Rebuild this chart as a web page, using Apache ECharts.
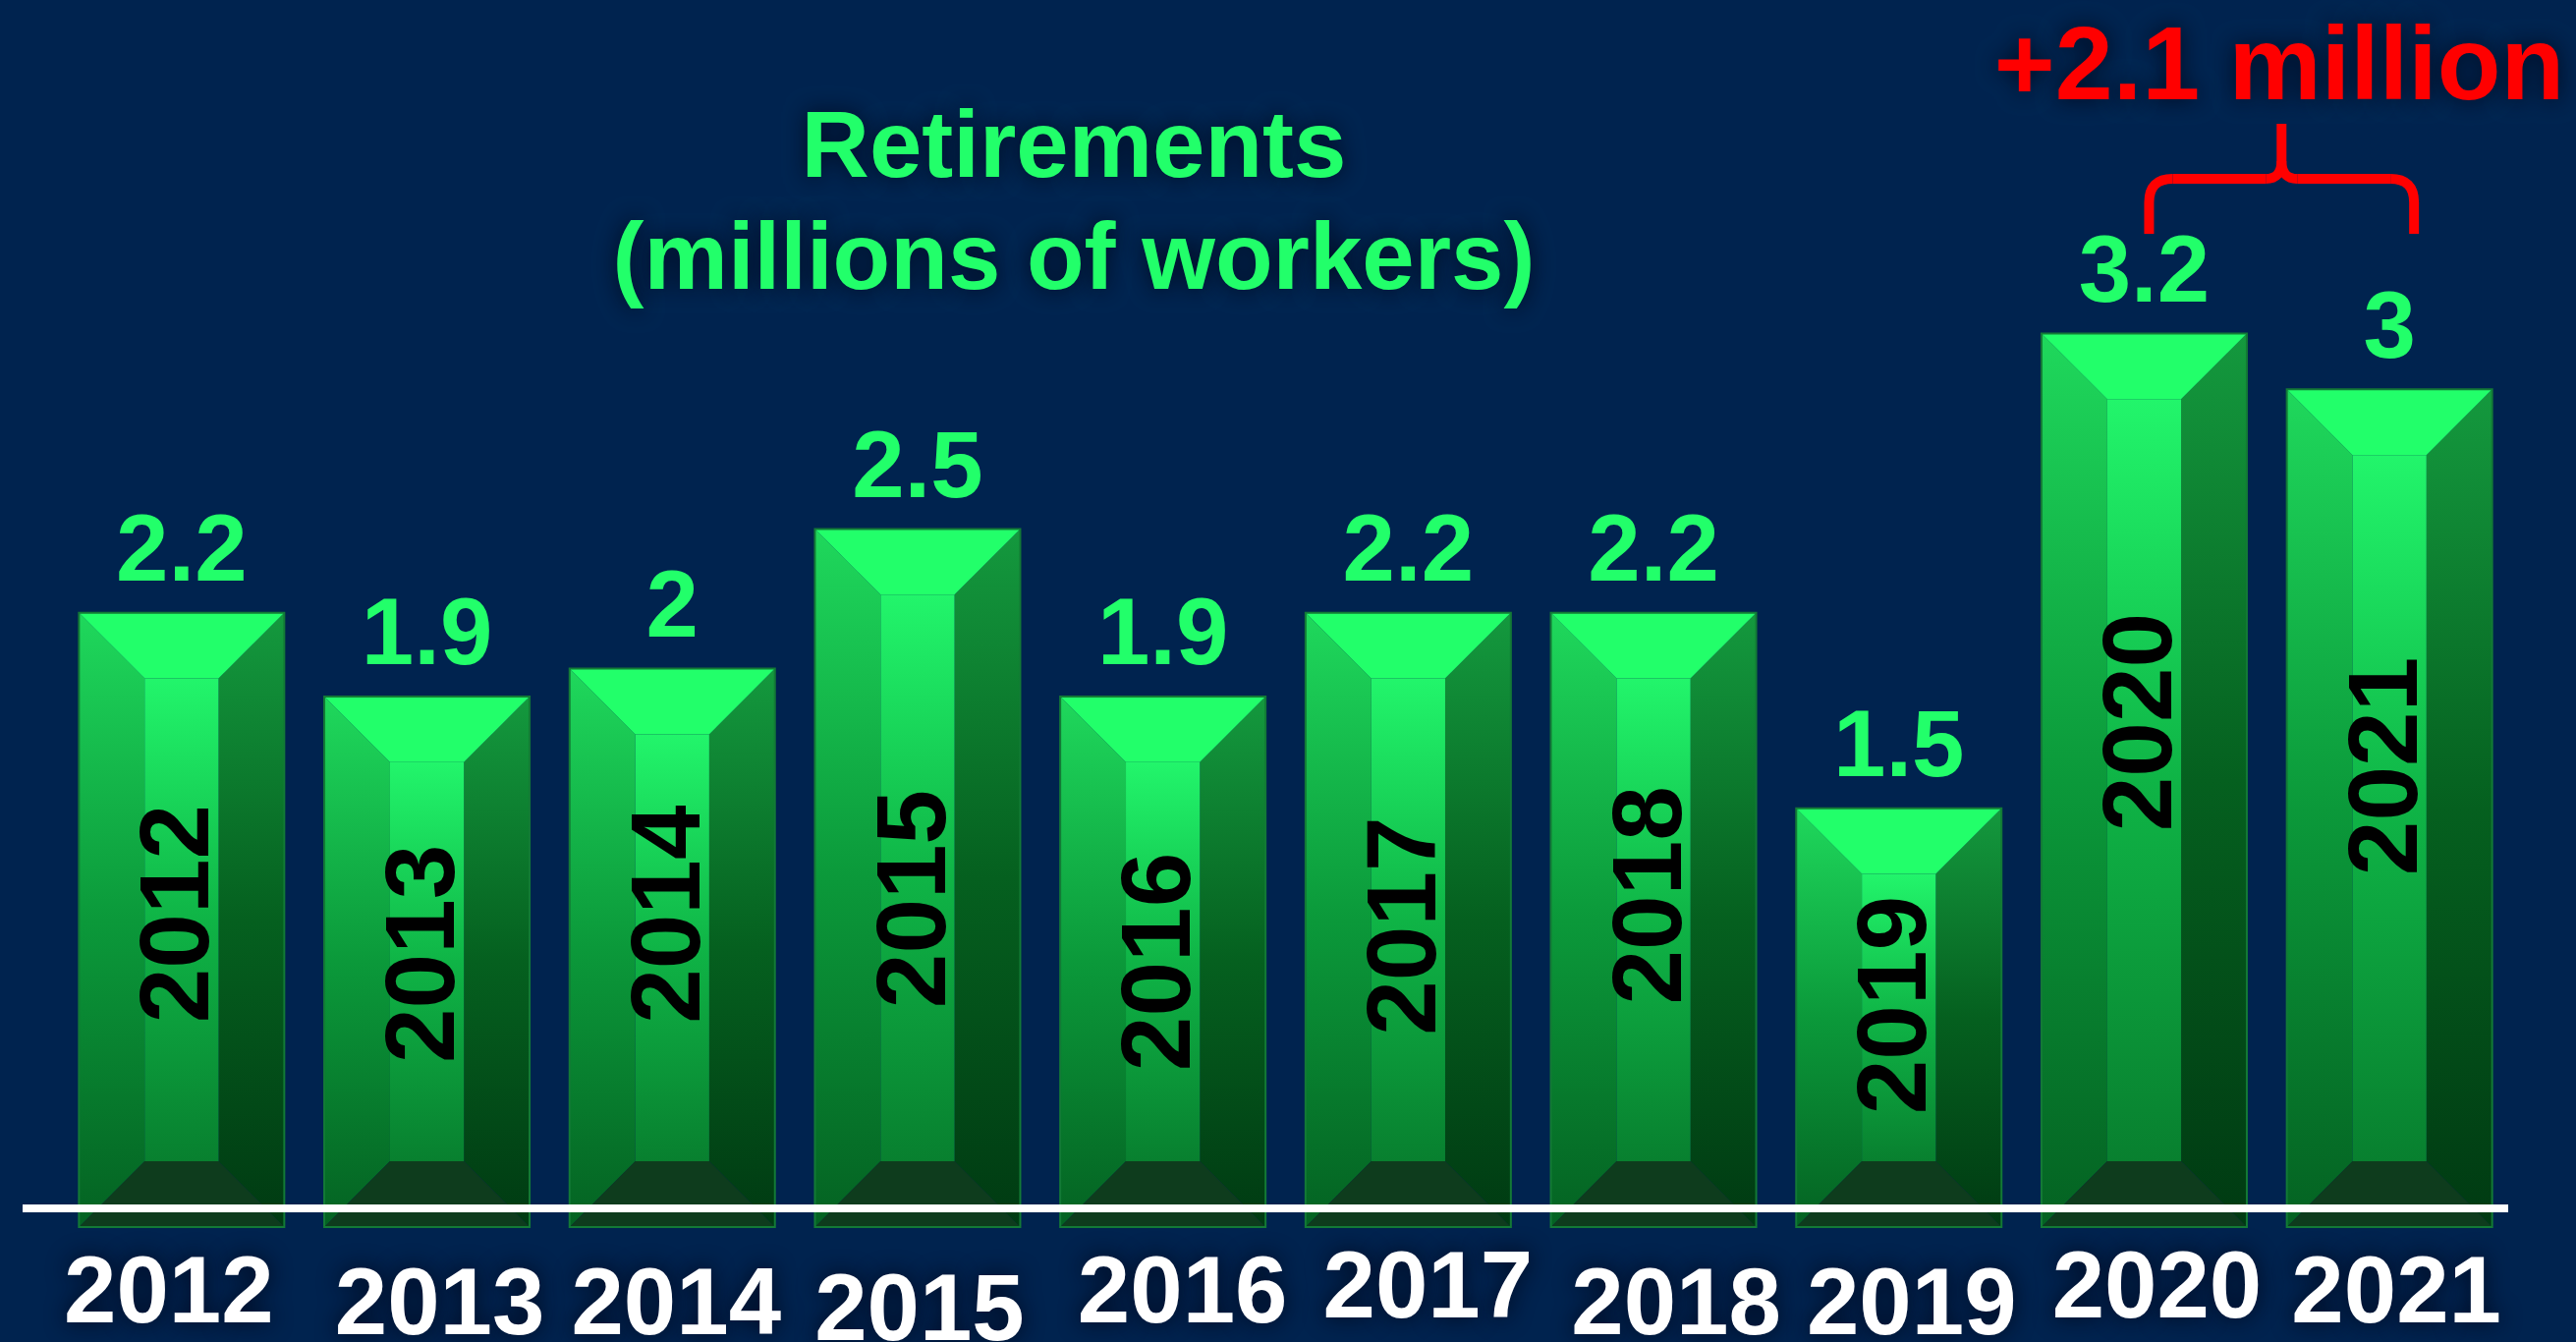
<!DOCTYPE html>
<html>
<head>
<meta charset="utf-8">
<title>Retirements</title>
<script src="https://cdn.jsdelivr.net/npm/echarts@6/dist/echarts.min.js"></script>
<style>
  html, body { margin: 0; padding: 0; background: #00234f; }
  #chart { width: 2622px; height: 1366px; }
</style>
</head>
<body>
<div id="chart"></div>
<script>
  // data
  var years = ['2012', '2013', '2014', '2015', '2016', '2017', '2018', '2019', '2020', '2021'];
  var retirements = [2.2, 1.9, 2, 2.5, 1.9, 2.2, 2.2, 1.5, 3.2, 3];
  var titleLines = ['Retirements', '(millions of workers)'];
  var gainText = '+2.1 million';
  var braceFrom = '2020';
  var braceTo = '2021';

  // layout nudges: the bottom year labels and the in-bar years sit a bit uneven in the original
  var labelDrop = [5, 17, 17, 23, 5, 0, 17, 17, 0, 5];
  var labelShift = [-13, 13, 4, 2, 20, 20, 23, 13, 13, 7];
  var yearLabelAt = [0.51, 0.515, 0.56, 0.47, 0.5, 0.49, 0.54, 0.53, 0.565, 0.55];

  var GREEN = '#22ff6a';
  var BOLD = '"Liberation Sans", Arial, Helvetica, sans-serif';
  var glow = 'rgba(0, 8, 28, 0.95)';

  var chart = echarts.init(document.getElementById('chart'));

  function grad(stops) {
    return new echarts.graphic.LinearGradient(0, 0, 0, 1, stops);
  }

  function renderBar(params, api) {
    var idx = api.value(0);
    var val = api.value(1);
    var top = api.coord([idx, val]);
    var base = api.coord([idx, 0]);
    var bw = api.size([1, 0])[0] * 0.837;
    var cx = top[0];
    var x0 = cx - bw / 2, x1 = cx + bw / 2;
    var y0 = top[1], y1 = base[1];
    var b = Math.min(bw * 0.32, (y1 - y0) / 2);

    return {
      type: 'group',
      children: [
        { // left side
          type: 'polygon',
          shape: { points: [[x0, y0], [x0 + b, y0 + b], [x0 + b, y1 - b], [x0, y1]] },
          style: { fill: grad([{ offset: 0, color: '#1fd85c' }, { offset: 0.5, color: '#0b993a' }, { offset: 1, color: '#046222' }]) }
        },
        { // right side
          type: 'polygon',
          shape: { points: [[x1, y0], [x1, y1], [x1 - b, y1 - b], [x1 - b, y0 + b]] },
          style: { fill: grad([{ offset: 0, color: '#14993e' }, { offset: 0.5, color: '#05601f' }, { offset: 1, color: '#003a12' }]) }
        },
        { // center face
          type: 'rect',
          shape: { x: x0 + b, y: y0 + b, width: bw - 2 * b, height: y1 - y0 - 2 * b },
          style: { fill: grad([{ offset: 0, color: '#22f56b' }, { offset: 0.5, color: '#0fb446' }, { offset: 1, color: '#08802f' }]) }
        },
        { // top bevel
          type: 'polygon',
          shape: { points: [[x0, y0], [x1, y0], [x1 - b, y0 + b], [x0 + b, y0 + b]] },
          style: { fill: GREEN }
        },
        { // bottom bevel
          type: 'polygon',
          shape: { points: [[x0, y1], [x0 + b, y1 - b], [x1 - b, y1 - b], [x1, y1]] },
          style: { fill: '#0e3c1d' }
        },
        {
          type: 'rect',
          shape: { x: x0, y: y0, width: bw, height: y1 - y0 },
          style: { fill: 'none', stroke: '#137a36', lineWidth: 2 }
        },
        { // value above the bar
          type: 'text',
          style: {
            text: String(val), x: cx, y: y0 - 11,
            align: 'center', verticalAlign: 'bottom',
            fill: GREEN, fontSize: 96, fontWeight: 'bold', fontFamily: BOLD
          }
        },
        { // year written up the bar
          type: 'text',
          x: cx, y: y1 - (y1 - y0) * yearLabelAt[idx], rotation: Math.PI / 2,
          style: {
            text: years[idx], x: 0, y: 0,
            align: 'center', verticalAlign: 'middle',
            fill: '#000', fontSize: 100, fontWeight: 'bold', fontFamily: BOLD
          }
        }
      ]
    };
  }

  chart.setOption({
    backgroundColor: '#00234f',
    animation: false,
    title: {
      text: titleLines.join('\n'),
      left: 1088,
      top: 92,
      textAlign: 'center',
      textStyle: {
        color: GREEN, fontSize: 96, fontWeight: 'bold', fontFamily: BOLD, lineHeight: 114,
        textShadowColor: glow, textShadowBlur: 22
      }
    },
    grid: { left: 60, right: 65, top: 112, bottom: 117, outerBoundsMode: 'none', containLabel: false },
    xAxis: {
      type: 'category',
      data: years.map(function (y, i) {
        var s = labelShift[i];
        return {
          value: y,
          textStyle: { padding: [labelDrop[i], s < 0 ? -2 * s : 0, 0, s > 0 ? 2 * s : 0] }
        };
      }),
      axisLine: { show: false },
      axisTick: { show: false },
      axisLabel: {
        interval: 0,
        margin: 18,
        color: '#fff', fontSize: 96, fontWeight: 'bold', fontFamily: BOLD,
        textShadowColor: glow, textShadowBlur: 22
      }
    },
    yAxis: {
      type: 'value', min: 0, max: 4, show: false
    },
    series: [{
      type: 'custom',
      renderItem: renderBar,
      encode: { x: 0, y: 1 },
      data: retirements.map(function (v, i) { return [i, v]; })
    }]
  });

  // baseline and the bracket annotation, placed from the axes
  var zeroY = chart.convertToPixel({ yAxisIndex: 0 }, 0);
  var lineY = zeroY - 19;
  var bx0 = chart.convertToPixel({ xAxisIndex: 0 }, braceFrom) + 5;
  var bx1 = chart.convertToPixel({ xAxisIndex: 0 }, braceTo) + 25;
  var bm = (bx0 + bx1) / 2;
  var legBottom = 238, barY = 182, tipY = 126, r = 24;

  var red = { stroke: '#ff0000', lineWidth: 10, fill: 'none' };
  function seg(xa, ya, xb, yb) {
    return { type: 'line', shape: { x1: xa, y1: ya, x2: xb, y2: yb }, style: red };
  }
  function curve(xa, ya, cx, cy, xb, yb) {
    return { type: 'bezierCurve', shape: { x1: xa, y1: ya, cpx1: cx, cpy1: cy, x2: xb, y2: yb }, style: red };
  }

  chart.setOption({
    graphic: [
      {
        type: 'rect', z: 100,
        shape: { x: 23, y: lineY - 4, width: 2530, height: 8 },
        style: { fill: '#fff' }
      },
      {
        type: 'group', z: 100,
        children: [
          seg(bx0, legBottom, bx0, barY + r),
          curve(bx0, barY + r, bx0, barY, bx0 + r, barY),
          seg(bx0 + r, barY, bm - 16, barY),
          curve(bm - 16, barY, bm, barY, bm, barY - 18),
          seg(bm, barY - 18, bm, tipY),
          curve(bm, barY - 18, bm, barY, bm + 16, barY),
          seg(bm + 16, barY, bx1 - r, barY),
          curve(bx1 - r, barY, bx1, barY, bx1, barY + r),
          seg(bx1, barY + r, bx1, legBottom)
        ]
      },
      {
        type: 'text', z: 100,
        x: 2320, y: 72,
        style: {
          text: gainText, x: 0, y: 0, align: 'center', verticalAlign: 'middle',
          fill: '#ff0000', fontSize: 106, fontWeight: 'bold', fontFamily: BOLD,
          textShadowColor: glow, textShadowBlur: 22
        }
      }
    ]
  });
</script>
</body>
</html>
